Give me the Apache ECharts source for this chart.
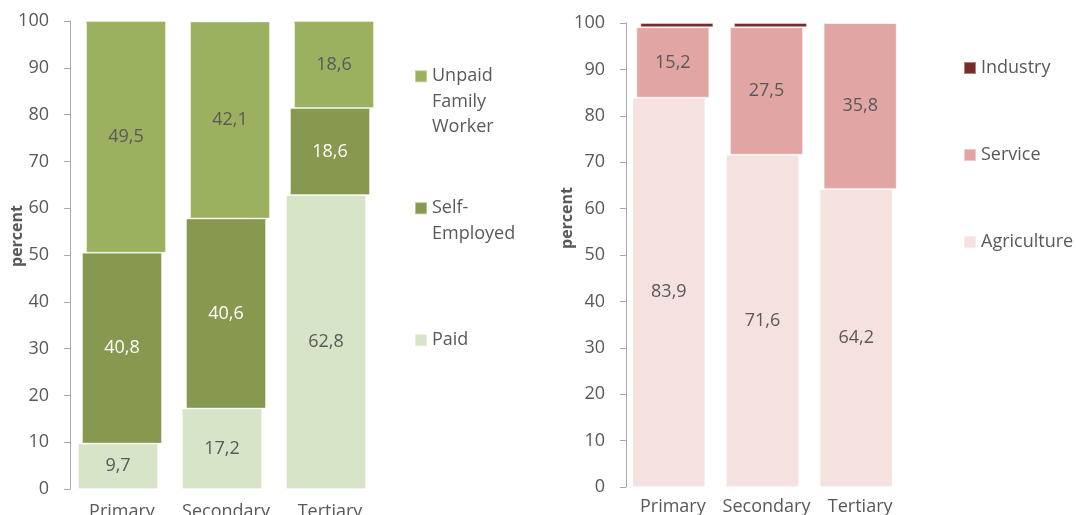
<!DOCTYPE html>
<html lang="en">
<head>
<meta charset="UTF-8">
<title>Employment by sector</title>
<script src="https://cdn.jsdelivr.net/npm/echarts@6/dist/echarts.min.js"></script>
<style>
  html, body { margin: 0; padding: 0; background: #fff; }
  #main { width: 1076px; height: 515px; }
</style>
</head>
<body>
<div id="main"></div>
<script>
// categories
const levels = ['Primary', 'Secondary', 'Tertiary'];
const yTicks = [0, 10, 20, 30, 40, 50, 60, 70, 80, 90, 100];

// left panel: employment status (percent)
const paid = [9.7, 17.2, 62.8];
const selfEmployed = [40.8, 40.6, 18.6];
const unpaidFamily = [49.5, 42.1, 18.6];

// right panel: sector (percent)
const agriculture = [83.9, 71.6, 64.2];
const service = [15.2, 27.5, 35.8];
const industry = [0.9, 0.9, 0];

const FONT = '"Open Sans", "Liberation Sans", sans-serif';
const GREY = '#595959';

let chart = echarts.init(document.getElementById('main'));

function add(a, b) { return a.map((v, i) => v + b[i]); }
function comma(p) { return p.value > 0 ? String(p.value).replace('.', ',') : ''; }

// one stacked column, each layer shifted a few px to the right (as in the original)
function layers(list, xi, barW, gap) {
  let out = [];
  let below = levels.map(() => 0);
  list.forEach((s, k) => {
    let stack = 's' + xi + '_' + k;
    if (k > 0) {
      out.push({
        type: 'bar', name: 'base' + xi + k, stack: stack,
        xAxisIndex: xi, yAxisIndex: xi,
        barWidth: barW, barGap: gap, silent: true,
        itemStyle: { color: 'transparent' },
        data: below.slice()
      });
    }
    out.push({
      type: 'bar', name: s.name, stack: stack,
      xAxisIndex: xi, yAxisIndex: xi,
      barWidth: barW, barGap: gap,
      itemStyle: { color: s.color, borderColor: 'rgba(255,255,255,0.4)', borderWidth: 1 },
      label: {
        show: s.label, position: 'inside', formatter: comma,
        color: s.labelColor || GREY, fontFamily: FONT, fontSize: 18
      },
      data: s.data
    });
    below = add(below, s.data);
  });
  return out;
}

function yAxisOf(i, gap, shift) {
  return {
    type: 'value', gridIndex: i, min: 0, max: 100, interval: 10,
    name: 'percent', nameLocation: 'middle', nameGap: gap, nameMoveOverlap: false,
    nameTextStyle: { color: GREY, fontFamily: FONT, fontSize: 16, fontWeight: 'bold',
      padding: [0, 0, 0, shift] },
    axisLine: { show: true, lineStyle: { color: '#a6a6a6' } },
    axisTick: { show: true, length: 6, lineStyle: { color: '#a6a6a6' } },
    splitLine: { show: false },
    axisLabel: { margin: 21, color: GREY, fontFamily: FONT, fontSize: 18,
      formatter: v => yTicks.includes(v) ? String(v) : '' }
  };
}

function xAxisOf(i, margin) {
  return {
    type: 'category', gridIndex: i, data: levels,
    axisLine: { show: false }, axisTick: { show: false },
    axisLabel: { interval: 0, margin: margin, color: GREY, fontFamily: FONT, fontSize: 18 }
  };
}

const leftSeries = [
  { name: 'Paid', data: paid, color: '#d8e4c8', label: true },
  { name: 'Self-Employed', data: selfEmployed, color: '#87994f', label: true, labelColor: '#ffffff' },
  { name: 'Unpaid Family Worker', data: unpaidFamily, color: '#9bb15f', label: true }
];
const rightSeries = [
  { name: 'Agriculture', data: agriculture, color: '#f5e1e0', label: true },
  { name: 'Service', data: service, color: '#e1a6a4', label: true },
  { name: 'Industry', data: industry, color: '#772c2a', label: false }
];

// five text lines per entry, first word on the middle line so it sits level with the swatch
const legendText = {
  'Unpaid Family Worker': '\n\nUnpaid\nFamily\nWorker',
  'Self-Employed': '\n\nSelf-\nEmployed\n',
  'Paid': '\n\nPaid\n\n'
};

let option = {
  animation: false,
  grid: [
    { left: 70, top: 21, width: 312, bottom: 26, outerBoundsMode: 'none' },
    { left: 626, top: 23, width: 281, bottom: 28, outerBoundsMode: 'none' }
  ],
  xAxis: [xAxisOf(0, 14), xAxisOf(1, 11)],
  yAxis: [yAxisOf(0, 45, 38), yAxisOf(1, 51, 74)],
  legend: [
    {
      orient: 'vertical', left: 414, top: 12.5, padding: 0, itemWidth: 12, itemHeight: 12,
      itemGap: 4.5, icon: 'rect', selectedMode: false,
      formatter: n => legendText[n] || n,
      textStyle: { color: GREY, fontFamily: FONT, fontSize: 18, lineHeight: 25.5 },
      data: ['Unpaid Family Worker', 'Self-Employed', 'Paid']
    },
    {
      orient: 'vertical', left: 963, top: 55.5, padding: 0, itemWidth: 12, itemHeight: 12,
      itemGap: 62, icon: 'rect', selectedMode: false,
      textStyle: { color: GREY, fontFamily: FONT, fontSize: 18, lineHeight: 25 },
      data: ['Industry', 'Service', 'Agriculture']
    }
  ],
  series: layers(leftSeries, 0, 80, '-95%').concat(layers(rightSeries, 1, 73, '-94.5%'))
};

chart.setOption(option);
</script>
</body>
</html>
